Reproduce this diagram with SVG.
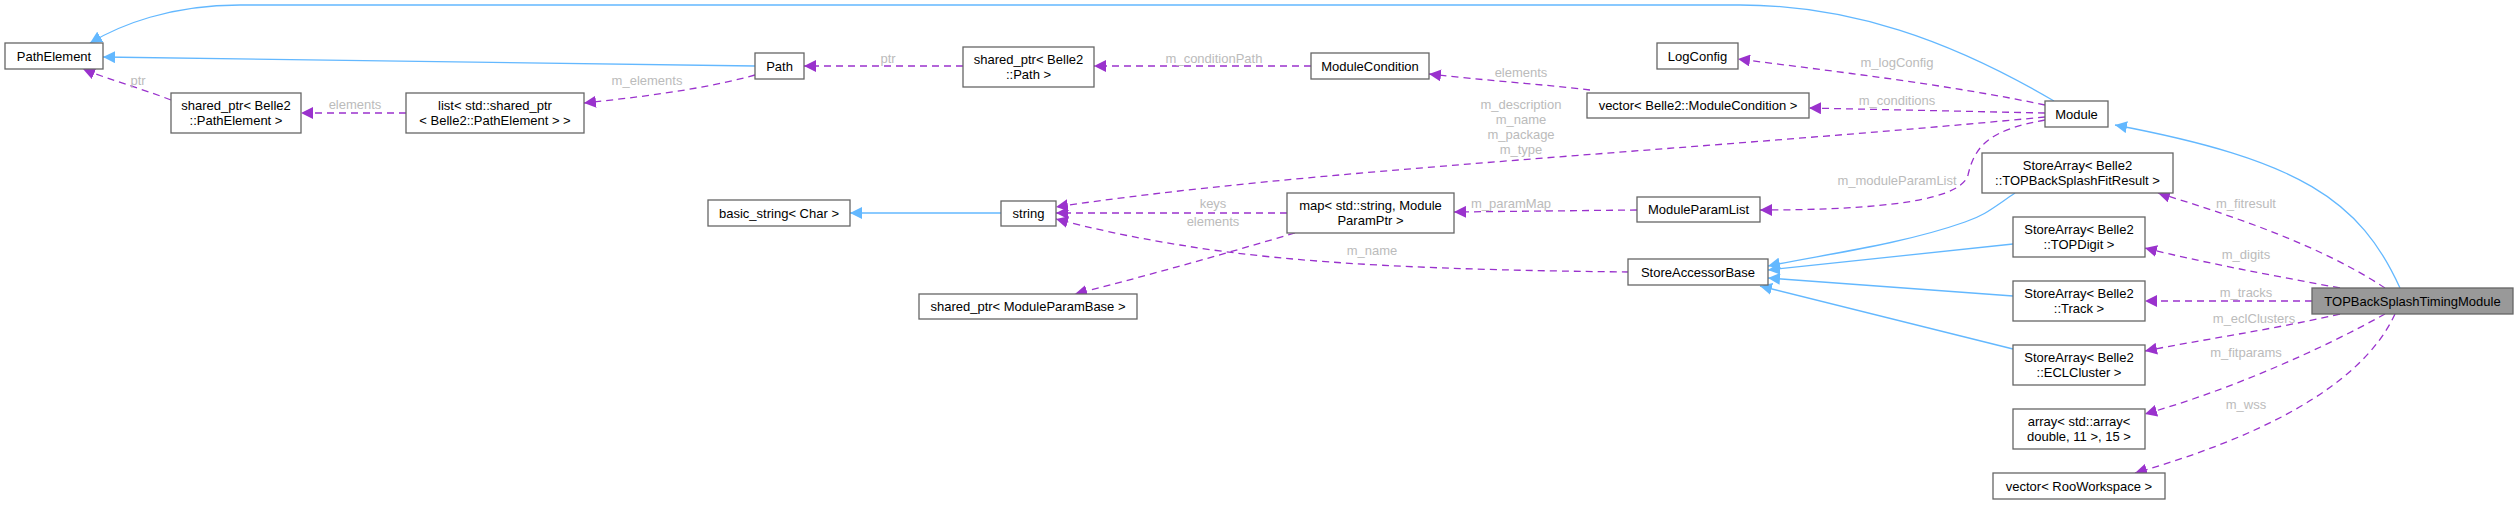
<svg xmlns="http://www.w3.org/2000/svg" width="2515" height="505" viewBox="0 0 2515 505">
<style>
.n rect{fill:#fff;stroke:#666;stroke-width:1.3}
.n text{font-family:"Liberation Sans",Arial,sans-serif;font-size:13px;fill:#000;text-anchor:middle}
.b{fill:none;stroke:#63b8ff;stroke-width:1.3}
.d{fill:none;stroke:#9a32cd;stroke-width:1.3;stroke-dasharray:7,5}
.l{font-family:"Liberation Sans",Arial,sans-serif;font-size:13px;fill:#bbb;text-anchor:middle}
</style>
<defs>
<marker id="ab" viewBox="0 0 10 10" refX="10" refY="5" markerWidth="12" markerHeight="12" markerUnits="userSpaceOnUse" orient="auto"><path d="M0,0L10,5L0,10z" fill="#63b8ff"/></marker>
<marker id="ap" viewBox="0 0 10 10" refX="10" refY="5" markerWidth="12" markerHeight="12" markerUnits="userSpaceOnUse" orient="auto"><path d="M0,0L10,5L0,10z" fill="#9a32cd"/></marker>
</defs>
<g id="edges">
<path class="b" marker-end="url(#ab)" d="M755,66 L103,57"/>
<path class="b" marker-end="url(#ab)" d="M2054,101 C1950,40 1850,5 1740,5 L240,5 C170,5 120,25 90,43"/>
<path class="d" marker-end="url(#ap)" d="M171,100 C140,88 110,80 83,69"/>
<path class="d" marker-end="url(#ap)" d="M406,113 L301,113"/>
<path class="d" marker-end="url(#ap)" d="M755,75 C700,90 640,97 584,103"/>
<path class="d" marker-end="url(#ap)" d="M963,66 L804,66"/>
<path class="d" marker-end="url(#ap)" d="M1311,66 L1094,66"/>
<path class="d" marker-end="url(#ap)" d="M1590,90 C1540,84 1480,80 1429,74"/>
<path class="d" marker-end="url(#ap)" d="M2045,105 C1950,85 1840,72 1738,59"/>
<path class="d" marker-end="url(#ap)" d="M2045,113 L1809,108"/>
<path class="d" marker-end="url(#ap)" d="M2045,117 C1700,150 1300,170 1056,207"/>
<path class="d" marker-end="url(#ap)" d="M2045,120 C1990,130 1975,145 1968,175 C1960,205 1850,210 1760,210"/>
<path class="d" marker-end="url(#ap)" d="M1637,210 L1454,212"/>
<path class="d" marker-end="url(#ap)" d="M1287,213 L1056,213"/>
<path class="d" marker-end="url(#ap)" d="M1295,233 C1220,255 1150,275 1075,294"/>
<path class="d" marker-end="url(#ap)" d="M1629,272 C1450,270 1300,265 1180,245 C1130,237 1090,228 1056,219"/>
<path class="b" marker-end="url(#ab)" d="M1001,213 L850,213"/>
<path class="b" marker-end="url(#ab)" d="M2015,193 C1990,210 1985,215 1965,222 C1900,245 1820,255 1768,266"/>
<path class="b" marker-end="url(#ab)" d="M2013,244 L1768,270"/>
<path class="b" marker-end="url(#ab)" d="M2013,296 L1768,278"/>
<path class="b" marker-end="url(#ab)" d="M2013,349 L1760,286"/>
<path class="b" marker-end="url(#ab)" d="M2400,288 C2360,200 2300,160 2115,125"/>
<path class="d" marker-end="url(#ap)" d="M2385,288 C2320,245 2230,215 2158,193"/>
<path class="d" marker-end="url(#ap)" d="M2340,288 C2270,275 2200,262 2145,248"/>
<path class="d" marker-end="url(#ap)" d="M2312,301 L2145,301"/>
<path class="d" marker-end="url(#ap)" d="M2340,314 C2270,330 2200,340 2145,351"/>
<path class="d" marker-end="url(#ap)" d="M2385,314 C2320,350 2230,390 2145,414"/>
<path class="d" marker-end="url(#ap)" d="M2395,314 C2360,390 2250,440 2135,473"/>
<text class="l" x="138" y="85">ptr</text>
<text class="l" x="355" y="109">elements</text>
<text class="l" x="647" y="85">m_elements</text>
<text class="l" x="888" y="63">ptr</text>
<text class="l" x="1214" y="63">m_conditionPath</text>
<text class="l" x="1521" y="77">elements</text>
<text class="l" x="1897" y="67">m_logConfig</text>
<text class="l" x="1897" y="105">m_conditions</text>
<text class="l" x="1521" y="109">m_description</text>
<text class="l" x="1521" y="124">m_name</text>
<text class="l" x="1521" y="139">m_package</text>
<text class="l" x="1521" y="154">m_type</text>
<text class="l" x="1897" y="185">m_moduleParamList</text>
<text class="l" x="1511" y="208">m_paramMap</text>
<text class="l" x="1213" y="208">keys</text>
<text class="l" x="1213" y="226">elements</text>
<text class="l" x="1372" y="255">m_name</text>
<text class="l" x="2246" y="208">m_fitresult</text>
<text class="l" x="2246" y="259">m_digits</text>
<text class="l" x="2246" y="297">m_tracks</text>
<text class="l" x="2254" y="323">m_eclClusters</text>
<text class="l" x="2246" y="357">m_fitparams</text>
<text class="l" x="2246" y="409">m_wss</text>
</g>
<g id="PathElement" class="n"><rect x="5" y="43" width="98" height="26"/><text x="54" y="61">PathElement</text></g>
<g id="Path" class="n"><rect x="755" y="53" width="49" height="26"/><text x="779.5" y="71">Path</text></g>
<g id="SPPathElement" class="n"><rect x="171" y="93" width="130" height="40"/><text x="236" y="110">shared_ptr&lt; Belle2</text><text x="236" y="125">::PathElement &gt;</text></g>
<g id="ListSP" class="n"><rect x="406" y="93" width="178" height="40"/><text x="495" y="110">list&lt; std::shared_ptr</text><text x="495" y="125">&lt; Belle2::PathElement &gt; &gt;</text></g>
<g id="SPPath" class="n"><rect x="963" y="47" width="131" height="40"/><text x="1028.5" y="64">shared_ptr&lt; Belle2</text><text x="1028.5" y="79">::Path &gt;</text></g>
<g id="ModuleCondition" class="n"><rect x="1311" y="53" width="118" height="26"/><text x="1370" y="71">ModuleCondition</text></g>
<g id="LogConfig" class="n"><rect x="1657" y="43" width="81" height="26"/><text x="1697.5" y="61">LogConfig</text></g>
<g id="VecModCond" class="n"><rect x="1587" y="93" width="222" height="25"/><text x="1698" y="110">vector&lt; Belle2::ModuleCondition &gt;</text></g>
<g id="Module" class="n"><rect x="2045" y="101" width="63" height="26"/><text x="2076.5" y="119">Module</text></g>
<g id="BasicString" class="n"><rect x="708" y="200" width="142" height="26"/><text x="779" y="218">basic_string&lt; Char &gt;</text></g>
<g id="String" class="n"><rect x="1001" y="201" width="55" height="25"/><text x="1028.5" y="218">string</text></g>
<g id="Map" class="n"><rect x="1287" y="193" width="167" height="40"/><text x="1370.5" y="210">map&lt; std::string, Module</text><text x="1370.5" y="225">ParamPtr &gt;</text></g>
<g id="SPModuleParamBase" class="n"><rect x="919" y="294" width="218" height="25"/><text x="1028" y="311">shared_ptr&lt; ModuleParamBase &gt;</text></g>
<g id="ModuleParamList" class="n"><rect x="1637" y="197" width="123" height="25"/><text x="1698.5" y="214">ModuleParamList</text></g>
<g id="StoreAccessorBase" class="n"><rect x="1628" y="259" width="140" height="26"/><text x="1698" y="277">StoreAccessorBase</text></g>
<g id="SAFitResult" class="n"><rect x="1982" y="153" width="191" height="40"/><text x="2077.5" y="170">StoreArray&lt; Belle2</text><text x="2077.5" y="185">::TOPBackSplashFitResult &gt;</text></g>
<g id="SATOPDigit" class="n"><rect x="2013" y="217" width="132" height="40"/><text x="2079" y="234">StoreArray&lt; Belle2</text><text x="2079" y="249">::TOPDigit &gt;</text></g>
<g id="SATrack" class="n"><rect x="2013" y="281" width="132" height="40"/><text x="2079" y="298">StoreArray&lt; Belle2</text><text x="2079" y="313">::Track &gt;</text></g>
<g id="SAECL" class="n"><rect x="2013" y="345" width="132" height="40"/><text x="2079" y="362">StoreArray&lt; Belle2</text><text x="2079" y="377">::ECLCluster &gt;</text></g>
<g id="ArrayArray" class="n"><rect x="2013" y="409" width="132" height="40"/><text x="2079" y="426">array&lt; std::array&lt;</text><text x="2079" y="441">double, 11 &gt;, 15 &gt;</text></g>
<g id="VecRoo" class="n"><rect x="1993" y="473" width="172" height="26"/><text x="2079" y="491">vector&lt; RooWorkspace &gt;</text></g>
<g id="TOPBackSplashTimingModule" class="n"><rect x="2312" y="288" width="201" height="26" style="fill:#999"/><text x="2412.5" y="306">TOPBackSplashTimingModule</text></g>
</svg>
